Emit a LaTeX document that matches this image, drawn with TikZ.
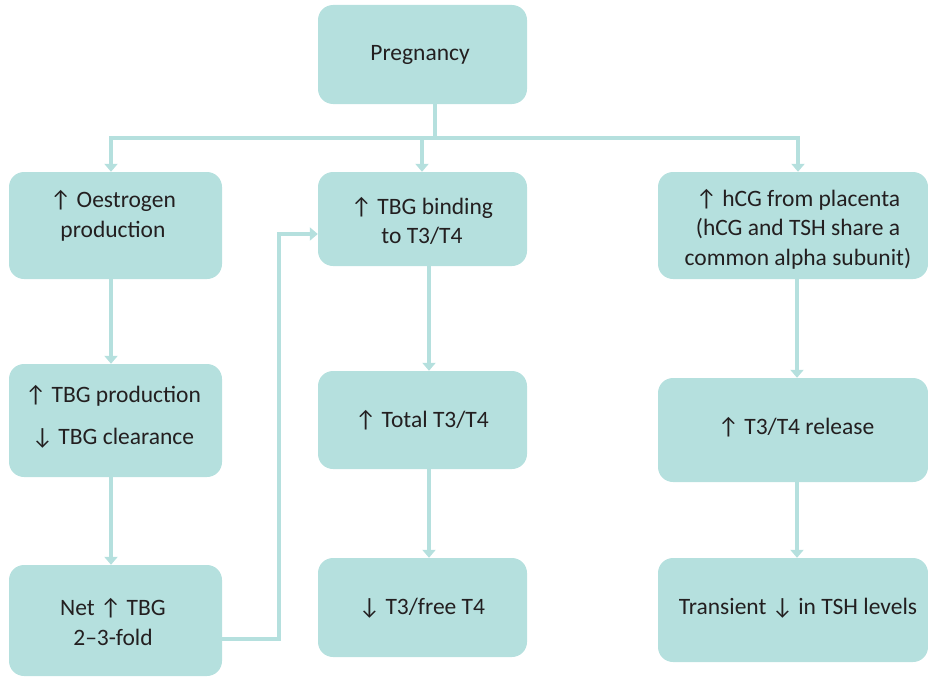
\documentclass[tikz,border=0pt]{standalone}
\usepackage{fontspec}
\setmainfont{Carlito}
\usetikzlibrary{arrows.meta}
\definecolor{boxfill}{HTML}{B5E0DE}
\definecolor{txtc}{HTML}{231F20}
\begin{document}
\begin{tikzpicture}[x=1pt,y=-1pt,
  box/.style={fill=boxfill, rounded corners=15pt, inner sep=0pt, minimum width=#1},
  box/.default=209pt,
  txt/.style={text=txtc, font=\fontsize{23.5}{29.5}\selectfont, align=center, inner sep=0pt},
  conn/.style={draw=boxfill, line width=3.3pt},
  arr/.style={conn, -{Triangle[length=8pt,width=13pt]}}]
\useasboundingbox (0,0) rectangle (928,677);

% boxes
\node[box, minimum height=99pt] (preg) at (422.5,54.5) {};
\node[box=213pt, minimum height=107pt] (L1) at (115.5,225.5) {};
\node[box, minimum height=94pt] (M1) at (422.5,219) {};
\node[box=270pt, minimum height=107pt] (R1) at (793,225.5) {};
\node[box=213pt, minimum height=113pt] (L2) at (115.5,420.5) {};
\node[box, minimum height=98pt] (M2) at (422.5,420) {};
\node[box=270pt, minimum height=104pt] (R2) at (793,430) {};
\node[box=213pt, minimum height=111pt] (L3) at (115.5,620.5) {};
\node[box, minimum height=99pt] (M3) at (422.5,607.5) {};
\node[box=270pt, minimum height=104pt] (R3) at (793,610) {};

% texts
\node[txt] (tpreg) at (420,55) {Pregnancy};
\node[txt] (tL1) at (113,216) {↑ Oestrogen\\production};
\node[txt] (tM1) at (422,221) {↑ TBG binding\\to T3/T4};
\node[txt] (tR1) at (798,229) {↑ hCG from placenta\\(hCG and TSH share a\\common alpha subunit)};
\node[txt, font=\fontsize{23.5}{42}\selectfont] (tL2) at (113,417) {↑ TBG production\\↓ TBG clearance};
\node[txt] (tM2) at (422,420) {↑ Total T3/T4};
\node[txt] (tR2) at (796,427) {↑ T3/T4 release};
\node[txt] (tL3) at (113,622) {Net ↑ TBG\\2–3-fold};
\node[txt] (tM3) at (422,608) {↓ T3/free T4};
\node[txt] (tR3) at (798,608) {Transient ↓ in TSH levels};

% connector coordinates
\coordinate (busL) at (111,138);
\coordinate (busM) at (422,138);
\coordinate (busP) at (435,138);
\coordinate (busR) at (798,138);
\coordinate (colM) at (429,0);
\coordinate (colR) at (797,0);
\coordinate (netA) at (279,639);
\coordinate (netB) at (279,234);

% connectors
\draw[conn] (preg.south -| busP) -- (busP);
\draw[conn, line cap=rect] (busL) -- (busR);
\draw[arr] (busL) -- (L1.north -| busL);
\draw[arr] (busM) -- (M1.north -| busM);
\draw[arr] (busR) -- (R1.north -| busR);
\draw[arr] (L1.south -| busL) -- (L2.north -| busL);
\draw[arr] (L2.south -| busL) -- (L3.north -| busL);
\draw[arr] (M1.south -| colM) -- (M2.north -| colM);
\draw[arr] (M2.south -| colM) -- (M3.north -| colM);
\draw[arr] (R1.south -| colR) -- (R2.north -| colR);
\draw[arr] (R2.south -| colR) -- (R3.north -| colR);
\draw[arr] (L3.east |- netA) -- (netA) -- (netB) -- (M1.west |- netB);
\end{tikzpicture}
\end{document}
